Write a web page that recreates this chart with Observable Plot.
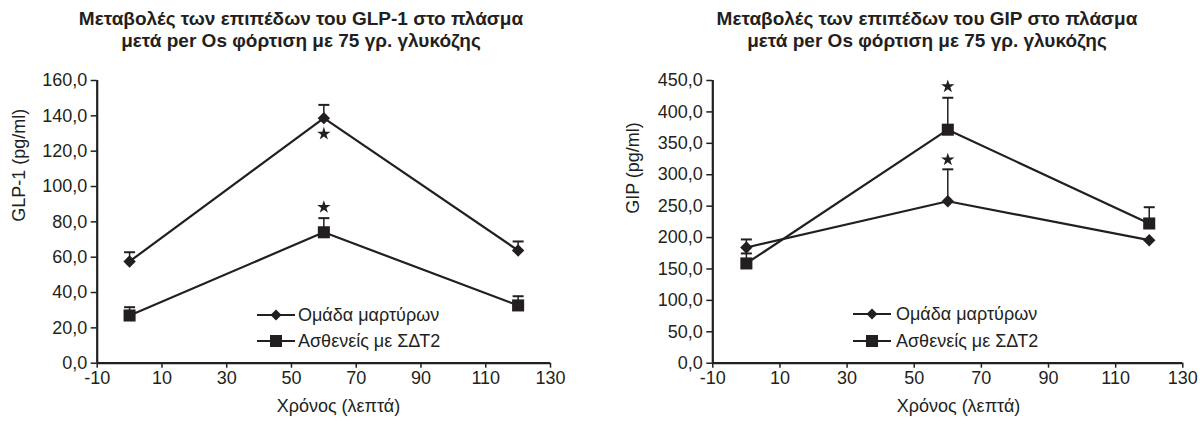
<!DOCTYPE html>
<html>
<head>
<meta charset="utf-8">
<script src="https://cdn.jsdelivr.net/npm/d3@7"></script>
<script src="https://cdn.jsdelivr.net/npm/@observablehq/plot@0.6"></script>
<style>
  body { margin: 0; background: #fff; font-family: "Liberation Sans", Arial, sans-serif; color: #231f20; }
  #wrap { position: relative; width: 1203px; height: 426px; overflow: hidden; background: #fff; }
  .panel { position: absolute; top: 0; height: 426px; }
  .panel .plot { position: absolute; left: 0; top: 58px; }
  .title { position: absolute; top: 8px; font-weight: bold; font-size: 19px; line-height: 22px;
           text-align: center; white-space: nowrap; transform: translateX(-50%); }
  .legend { position: absolute; font-size: 18px; }
  .legend .row { position: absolute; left: 0; display: flex; align-items: center; height: 26px; white-space: nowrap; }
  .legend svg { display: block; }
</style>
</head>
<body>
<div id="wrap">
  <div class="panel" id="left" style="left:0;width:601px"></div>
  <div class="panel" id="right" style="left:601px;width:602px"></div>
</div>
<script>
// ---------- data ----------
const time = [0, 60, 120];
const seriesNames = ["Ομάδα μαρτύρων", "Ασθενείς με ΣΔΤ2"];
const xTicks = [-10, 10, 30, 50, 70, 90, 110, 130];
const xLabel = "Χρόνος (λεπτά)";

// GLP-1 panel
const glpTitle = ["Μεταβολές των επιπέδων του GLP-1 στο πλάσμα", "μετά per Os φόρτιση με 75 γρ. γλυκόζης"];
const glpLabel = "GLP-1 (pg/ml)";
const glpTicks = [0, 20, 40, 60, 80, 100, 120, 140, 160];
const glpControl = [57.6, 138.7, 63.8];
const glpControlUpper = [62.8, 146.2, 68.9];
const glpPatients = [27.0, 74.1, 32.7];
const glpPatientsUpper = [31.7, 82.1, 37.9];
const glpStarTime = [60, 60];
const glpStars = [129.8, 88.3];

// GIP panel
const gipTitle = ["Μεταβολές των επιπέδων του GIP στο πλάσμα", "μετά per Os φόρτιση με 75 γρ. γλυκόζης"];
const gipLabel = "GIP (pg/ml)";
const gipTicks = [0, 50, 100, 150, 200, 250, 300, 350, 400, 450];
const gipControl = [184.2, 257.8, 195.8];
const gipControlUpper = [197.0, 308.6, null];
const gipPatients = [158.8, 371.7, 222.4];
const gipPatientsUpper = [174.7, 422.5, 248.3];
const gipStarTime = [60, 60];
const gipStars = [440.4, 324.0];

// ---------- drawing ----------
const ink = "#231f20";
const font = '"Liberation Sans", Arial, sans-serif';
const fmt = d => d.toFixed(1).replace(".", ",");
const capSymbol = {
  draw(ctx, size) { const r = Math.sqrt(size / Math.PI); ctx.moveTo(-r, 0); ctx.lineTo(r, 0); }
};

function makeChart(cfg) {
  const rows = (vals, upp, name) => time.map((t, i) => ({t, v: vals[i], u: upp[i], s: name}));
  const ctrl = rows(cfg.control, cfg.controlUpper, seriesNames[0]);
  const pat = rows(cfg.patients, cfg.patientsUpper, seriesNames[1]);
  const err = [...ctrl, ...pat].filter(d => d.u != null);
  const stars = cfg.stars.map((v, i) => ({t: cfg.starTime[i], v}));
  return Plot.plot({
    width: cfg.width,
    height: 368,
    marginTop: 22,
    marginBottom: 63.3,
    marginLeft: cfg.marginLeft,
    marginRight: cfg.marginRight,
    style: {fontFamily: font, fontSize: "18px", color: ink, background: "white", overflow: "visible"},
    x: {domain: [-10, 130]},
    y: {domain: [0, cfg.yMax]},
    marks: [
      Plot.axisX({ticks: xTicks, tickSize: 5, tickPadding: 3, tickFormat: d => String(d), label: null, strokeWidth: 1.5, fontSize: 18}),
      Plot.axisY({ticks: cfg.yTicks, tickSize: 6, tickPadding: 4, tickFormat: fmt, label: null, strokeWidth: 1.5, fontSize: 18}),
      Plot.ruleX([-10], {stroke: ink, strokeWidth: 2.2}),
      Plot.ruleY([0], {stroke: ink, strokeWidth: 2.2}),
      Plot.ruleX(err, {x: "t", y1: "v", y2: "u", stroke: ink, strokeWidth: 1.5}),
      Plot.dot(err, {x: "t", y: "u", symbol: capSymbol, r: 5.5, fill: "none", stroke: ink, strokeWidth: 2}),
      Plot.line(ctrl, {x: "t", y: "v", stroke: ink, strokeWidth: 2.2}),
      Plot.line(pat, {x: "t", y: "v", stroke: ink, strokeWidth: 2.2}),
      Plot.dot(ctrl, {x: "t", y: "v", symbol: "diamond2", r: 5.6, fill: ink, stroke: "none"}),
      Plot.dot(pat, {x: "t", y: "v", symbol: "square", r: 6.8, fill: ink, stroke: "none"}),
      Plot.dot(stars, {x: "t", y: "v", symbol: "star", r: 4.2, fill: ink, stroke: "none"}),
      Plot.text([cfg.yLabel], {text: d => d, frameAnchor: "left", rotate: -90, dx: cfg.yLabelDx, dy: cfg.yLabelDy, fontSize: 18, fill: ink}),
      Plot.text([xLabel], {text: d => d, frameAnchor: "bottom", dx: cfg.xLabelDx, dy: 49, fontSize: 18, fill: ink})
    ]
  });
}

function addPanel(el, cfg) {
  const t = document.createElement("div");
  t.className = "title";
  t.style.left = cfg.titleX + "px";
  t.innerHTML = cfg.title.join("<br>");
  el.appendChild(t);
  const holder = document.createElement("div");
  holder.className = "plot";
  holder.appendChild(makeChart(cfg));
  el.appendChild(holder);
  // legend
  const lg = document.createElement("div");
  lg.className = "legend";
  lg.style.left = cfg.legendX + "px";
  lg.style.top = "0px";
  const sym = [
    `<svg width="38" height="14"><line x1="0" y1="7" x2="38" y2="7" stroke="${ink}" stroke-width="2.2"/><path d="M19,1.5L24.5,7L19,12.5L13.5,7Z" fill="${ink}"/></svg>`,
    `<svg width="38" height="14"><line x1="0" y1="7" x2="38" y2="7" stroke="${ink}" stroke-width="2.2"/><rect x="13" y="1" width="12" height="12" fill="${ink}"/></svg>`
  ];
  seriesNames.forEach((name, i) => {
    const r = document.createElement("div");
    r.className = "row";
    r.style.top = (cfg.legendY[i] - 13) + "px";
    r.innerHTML = sym[i] + `<span style="margin-left:${cfg.legendGap}px">${name}</span>`;
    lg.appendChild(r);
  });
  el.appendChild(lg);
}

addPanel(document.getElementById("left"), {
  width: 601, marginLeft: 96.7, marginRight: 51,
  title: glpTitle, titleX: 301,
  yLabel: glpLabel, yLabelDx: -78.2, yLabelDy: 0, xLabelDx: 14.6,
  yTicks: glpTicks, yMax: 160,
  control: glpControl, controlUpper: glpControlUpper,
  patients: glpPatients, patientsUpper: glpPatientsUpper,
  stars: glpStars, starTime: glpStarTime,
  legendX: 257, legendY: [315, 341], legendGap: 3
});
addPanel(document.getElementById("right"), {
  width: 602, marginLeft: 111.3, marginRight: 20.7,
  title: gipTitle, titleX: 326,
  yLabel: gipLabel, yLabelDx: -79.6, yLabelDy: -8, xLabelDx: 10.7,
  yTicks: gipTicks, yMax: 450,
  control: gipControl, controlUpper: gipControlUpper,
  patients: gipPatients, patientsUpper: gipPatientsUpper,
  stars: gipStars, starTime: gipStarTime,
  legendX: 252, legendY: [314, 341], legendGap: 5
});
</script>
</body>
</html>
